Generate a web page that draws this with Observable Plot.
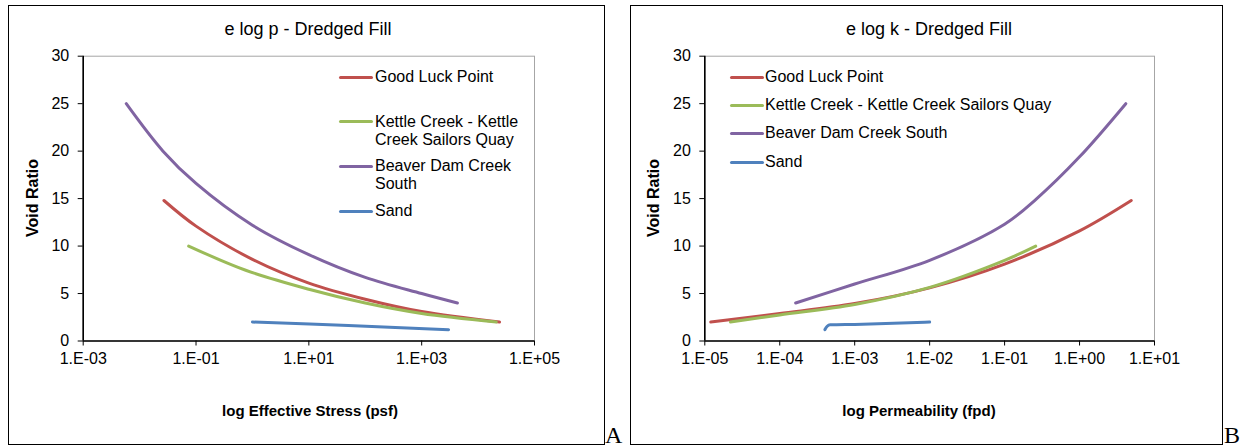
<!DOCTYPE html>
<html>
<head>
<meta charset="utf-8">
<script src="https://cdn.jsdelivr.net/npm/d3@7"></script>
<script src="https://cdn.jsdelivr.net/npm/@observablehq/plot@0.6"></script>
<style>
  html, body { margin: 0; padding: 0; background: #fff; }
  #root { position: relative; width: 1242px; height: 447px; overflow: hidden; font-family: "Liberation Sans", Arial, sans-serif; color: #000; }
  .frame { position: absolute; box-sizing: border-box; border: 1.5px solid #000; }
  .abs { position: absolute; white-space: nowrap; }
  .title { font-size: 18px; text-align: center; line-height: 22px; }
  .xt { font-size: 15px; font-weight: bold; text-align: center; line-height: 18px; }
  .yt { font-size: 16px; font-weight: bold; line-height: 18px; transform: translate(-50%, -50%) rotate(-90deg); }
  .letter { font-family: "Liberation Serif", "Times New Roman", serif; font-size: 24px; line-height: 24px; }
  .leg { font-size: 16px; line-height: 18.3px; }
  .sw { position: absolute; height: 3.5px; border-radius: 2px; }
  .chart { position: absolute; }
</style>
</head>
<body>
<div id="root"></div>
<script>
// ---------- Series ----------
const seriesNames = ["Good Luck Point", "Kettle Creek - Kettle Creek Sailors Quay", "Beaver Dam Creek South", "Sand"];
const seriesColors = ["#C0504D", "#9BBB59", "#8064A2", "#4F81BD"];

// ---------- Data: chart A (e log p): effective stress (psf) and void ratio ----------
const pGoodLuck = [0.027, 0.1, 1, 10, 100, 1000, 24000];
const eGoodLuckP = [14.8, 12.1, 8.6, 6.1, 4.4, 3.1, 2.0];
const pKettle = [0.074, 0.76, 10, 100, 1000, 21000];
const eKettleP = [10.0, 7.45, 5.45, 4.0, 2.9, 2.0];
const pBeaver = [0.0058, 0.026, 0.1, 1, 10, 100, 1000, 4300];
const eBeaverP = [25.0, 20.0, 16.6, 12.2, 9.1, 6.7, 5.0, 4.0];
const pSand = [1, 50, 3000];
const eSandP = [2.0, 1.63, 1.18];

// ---------- Data: chart B (e log k): permeability (fpd) and void ratio ----------
const kGoodLuck = [1.2e-5, 1e-4, 1e-3, 1e-2, 0.1, 1, 4.9];
const eGoodLuckK = [2.0, 2.9, 3.95, 5.6, 8.1, 11.6, 14.8];
const kKettle = [2.2e-5, 1e-4, 1e-3, 1e-2, 0.1, 0.26];
const eKettleK = [2.0, 2.75, 3.85, 5.65, 8.5, 10.0];
const kBeaver = [1.63e-4, 1e-3, 1e-2, 0.1, 0.26, 1, 4.14];
const eBeaverK = [4.0, 6.0, 8.5, 12.3, 14.9, 19.4, 25.0];
const kSand = [4.0e-4, 4.3e-4, 4.7e-4, 1e-3, 1e-2];
const eSandK = [1.2, 1.55, 1.7, 1.75, 2.0];

// ---------- Ticks ----------
const xTicksA = [1e-3, 1e-1, 1e1, 1e3, 1e5];
const xTicksB = [1e-5, 1e-4, 1e-3, 1e-2, 1e-1, 1e0, 1e1];
const yTicks = [0, 5, 10, 15, 20, 25, 30];

function zip(name, xs, es) { return xs.map((x, i) => ({series: name, x, e: es[i]})); }

const dataA = [
  zip(seriesNames[0], pGoodLuck, eGoodLuckP),
  zip(seriesNames[1], pKettle, eKettleP),
  zip(seriesNames[2], pBeaver, eBeaverP),
  zip(seriesNames[3], pSand, eSandP)
];
const dataB = [
  zip(seriesNames[0], kGoodLuck, eGoodLuckK),
  zip(seriesNames[1], kKettle, eKettleK),
  zip(seriesNames[2], kBeaver, eBeaverK),
  zip(seriesNames[3], kSand, eSandK)
];

const fmt = d => {
  const ex = Math.round(Math.log10(d));
  return "1.E" + (ex < 0 ? "-" : "+") + String(Math.abs(ex)).padStart(2, "0");
};

function makeChart(series, xTicks, w, h, ml, mr, mt, mb, curves) {
  const marks = [
    Plot.frame({stroke: "#a6a6a6", strokeWidth: 1}),
    Plot.axisX({ticks: xTicks, tickSize: 5, tickPadding: 7, tickFormat: fmt, label: null}),
    Plot.axisY({ticks: yTicks, tickSize: 5, tickPadding: 9, label: null}),
    Plot.ruleX([xTicks[0]], {stroke: "#000", strokeWidth: 1.6}),
    Plot.ruleY([0], {stroke: "#000", strokeWidth: 1.6})
  ];
  series.forEach((s, i) => {
    marks.push(Plot.line(s, {x: "x", y: "e", stroke: seriesColors[i], strokeWidth: 3, curve: curves[i]}));
  });
  return Plot.plot({
    width: w, height: h,
    marginLeft: ml, marginRight: mr, marginTop: mt, marginBottom: mb,
    x: {type: "log", domain: [xTicks[0], xTicks[xTicks.length - 1]]},
    y: {domain: [0, 30]},
    style: {fontFamily: "'Liberation Sans', Arial, sans-serif", fontSize: "16px", background: "transparent", color: "#000"},
    marks
  });
}

const root = document.getElementById("root");
function add(html) { root.insertAdjacentHTML("beforeend", html); }

// frames and panel letters
add(`<div class="frame" style="left:8px;top:5px;width:597px;height:440px"></div>`);
add(`<div class="frame" style="left:630px;top:5px;width:593px;height:440px"></div>`);
add(`<div class="abs letter" style="left:605px;top:423px">A</div>`);
add(`<div class="abs letter" style="left:1224px;top:423px">B</div>`);

// charts
const cA = makeChart(dataA, xTicksA, 596, 439, 74.7, 70, 49.7, 104.5,
  ["catmull-rom", "catmull-rom", "catmull-rom", "catmull-rom"]);
cA.classList.add("chart"); cA.style.left = "8px"; cA.style.top = "6px";
root.appendChild(cA);
const cB = makeChart(dataB, xTicksB, 592, 439, 73.3, 69, 49.7, 104.5,
  ["catmull-rom", "catmull-rom", "catmull-rom", "monotone-x"]);
cB.classList.add("chart"); cB.style.left = "631px"; cB.style.top = "6px";
root.appendChild(cB);

// titles
add(`<div class="abs title" style="left:108px;width:400px;top:18px">e log p - Dredged Fill</div>`);
add(`<div class="abs title" style="left:729px;width:400px;top:18px">e log k - Dredged Fill</div>`);
add(`<div class="abs xt" style="left:110px;width:400px;top:402px">log Effective Stress (psf)</div>`);
add(`<div class="abs xt" style="left:719px;width:400px;top:402px">log Permeability (fpd)</div>`);
add(`<div class="abs yt" style="left:33px;top:198px">Void Ratio</div>`);
add(`<div class="abs yt" style="left:654px;top:198px">Void Ratio</div>`);

// legend A
const legA = [
  {y: 77.5, lines: ["Good Luck Point"]},
  {y: 121.7, lines: ["Kettle Creek - Kettle", "Creek Sailors Quay"]},
  {y: 166.3, lines: ["Beaver Dam Creek", "South"]},
  {y: 211.3, lines: ["Sand"]}
];
legA.forEach((d, i) => {
  add(`<div class="sw" style="left:339px;width:34px;top:${d.y - 1.75}px;background:${seriesColors[i]}"></div>`);
  add(`<div class="abs leg" style="left:375px;top:${d.y - 9.15}px">${d.lines.join("<br>")}</div>`);
});
// legend B
const legBy = [77.3, 105.3, 133.3, 162.3];
legBy.forEach((y, i) => {
  add(`<div class="sw" style="left:730px;width:34px;top:${y - 1.75}px;background:${seriesColors[i]}"></div>`);
  add(`<div class="abs leg" style="left:765px;top:${y - 9.15}px">${seriesNames[i]}</div>`);
});
</script>
</body>
</html>
